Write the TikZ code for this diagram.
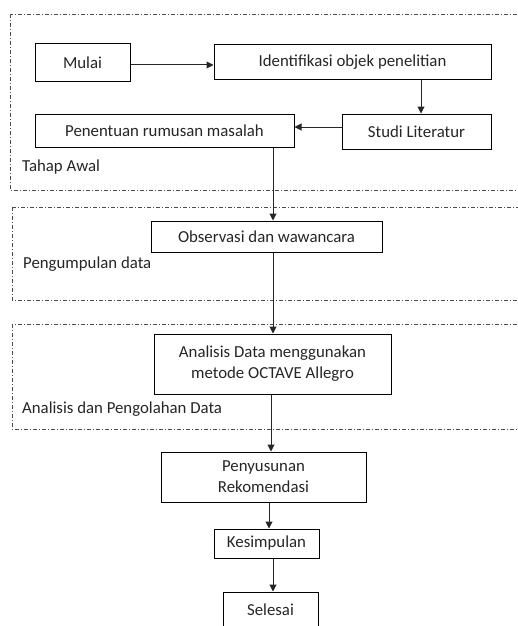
\documentclass[tikz,border=0pt]{standalone}
\usepackage{fontspec}
\setmainfont{Carlito}
\usetikzlibrary{arrows.meta}
\begin{document}
\begin{tikzpicture}[x=1pt,y=-1pt,
  every node/.style={font=\fontsize{16.8}{21}\selectfont, text=black!85},
  box/.style={draw=black, line width=1pt, inner sep=0pt, align=center},
  stage/.style={draw=black!70, line width=0.9pt, dash pattern=on 4pt off 2pt on 1pt off 2pt},
  lbl/.style={anchor=west, inner sep=0pt},
  arr/.style={draw=black!85, line width=1pt, -{Triangle[length=7pt,width=7pt]}},
  ln/.style={draw=black!85, line width=1pt}]
\useasboundingbox (0,0) rectangle (518,626);
\clip (0,0) rectangle (518,626);
\fill[white] (0,0) rectangle (518,626);
% stage frames
\draw[stage] (10,14) rectangle (560,190);
\draw[stage] (12,207) rectangle (560,300);
\draw[stage] (12,324) rectangle (560,429);
\node[lbl] (tl1) at (22,167) {Tahap Awal};
\node[lbl] (tl2) at (23,264) {Pengumpulan data};
\node[lbl] (tl3) at (22,409) {Analisis dan Pengolahan Data};
% nodes
\node[box, minimum width=95pt, minimum height=37pt] (mul) at (82.5,62.5) {Mulai};
\node[box, minimum width=277pt, minimum height=34pt] (ide) at (352.5,62) {Identifikasi objek penelitian};
\node[box, minimum width=149pt, minimum height=35pt] (stu) at (416.5,131.5) {Studi Literatur};
\node[box, minimum width=259pt, minimum height=33pt] (pen) at (164.5,130.5) {Penentuan rumusan masalah};
\node[box, minimum width=231pt, minimum height=31pt] (obs) at (266.5,236.5) {Observasi dan wawancara};
\node[box, minimum width=237pt, minimum height=60pt] (ana) at (272.5,364) {Analisis Data menggunakan\\metode OCTAVE Allegro};
\node[box, minimum width=205pt, minimum height=50pt] (pny) at (263.5,477) {Penyusunan\\Rekomendasi};
\node[box, minimum width=105pt, minimum height=29pt] (kes) at (266.5,543.5) {Kesimpulan};
\node[box, minimum width=95pt, minimum height=44pt] (sel) at (270.5,614) {};
\node (selt) at (270.5,610) {Selesai};
% column coordinates
\coordinate (c1) at (421,0);
\coordinate (c2) at (273,0);
\coordinate (c3) at (271,0);
\coordinate (c4) at (269,0);
\coordinate (r1) at (0,127);
\coordinate (r0) at (0,65);
% connectors
\draw[arr] (mul.east |- r0) -- (ide.west |- r0);
\draw[arr] (ide.south -| c1) -- (stu.north -| c1);
\draw[arr] (stu.west |- r1) -- (pen.east |- r1);
\draw[arr] (pen.south -| c2) -- (obs.north -| c2);
\draw[arr] (obs.south -| c2) -- (ana.north -| c2);
\draw[arr] (ana.south -| c3) -- (pny.north -| c3);
\draw[arr] (pny.south -| c4) -- (kes.north -| c4);
\draw[arr] (kes.south -| c2) -- (sel.north -| c2);
\end{tikzpicture}
\end{document}
